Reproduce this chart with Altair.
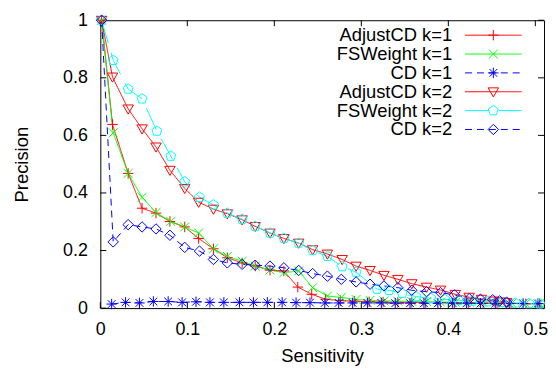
import altair as alt
import pandas as pd

series_names = ["AdjustCD k=1", "FSWeight k=1", "CD k=1", "AdjustCD k=2", "FSWeight k=2", "CD k=2"]
marker_keys = ["p1", "p2", "p3", "p4", "p5", "p6"]
colors = ["#ff0000", "#00ff00", "#0000ff", "#ff0000", "#00ffff", "#0000ff"]
dashes = [[1, 0], [1, 0], [7, 5], [1, 0], [24, 10], [7, 5]]
shapes = [
    "M-1,0H1M0,-1V1",
    "M-0.85,-0.85L0.85,0.85M-0.85,0.85L0.85,-0.85",
    "M-1,0H1M0,-1V1M-0.75,-0.75L0.75,0.75M-0.75,0.75L0.75,-0.75",
    "M-1,-0.75L1,-0.75L0,1Z",
    "M0,-1L0.951,-0.309L0.588,0.809L-0.588,0.809L-0.951,-0.309Z",
    "M0,-1L1,0L0,1L-1,0Z",
]

adj1_x = [0.0015, 0.014, 0.032, 0.048, 0.064, 0.080, 0.097, 0.113, 0.130, 0.146,
          0.163, 0.178, 0.195, 0.211, 0.227, 0.243, 0.259, 0.276, 0.292, 0.309,
          0.325, 0.342, 0.358, 0.374, 0.391, 0.407, 0.423, 0.440, 0.456, 0.472,
          0.489, 0.505]
adj1_y = [1.0, 0.638, 0.468, 0.347, 0.330, 0.301, 0.282, 0.242, 0.206, 0.175,
          0.157, 0.146, 0.132, 0.129, 0.073, 0.048, 0.031, 0.026, 0.024, 0.022,
          0.021, 0.020, 0.020, 0.019, 0.019, 0.018, 0.018, 0.017, 0.016, 0.016,
          0.015, 0.015]

fs1_x = [0.0015, 0.0148, 0.032, 0.048, 0.064, 0.081, 0.097, 0.113, 0.130, 0.146,
         0.163, 0.178, 0.195, 0.211, 0.228, 0.244, 0.261, 0.277, 0.294, 0.310,
         0.326, 0.342, 0.358, 0.375, 0.391, 0.408, 0.424, 0.440, 0.457, 0.473,
         0.489, 0.505]
fs1_y = [1.0, 0.609, 0.468, 0.385, 0.332, 0.301, 0.282, 0.261, 0.206, 0.180,
         0.163, 0.146, 0.132, 0.123, 0.129, 0.071, 0.042, 0.037, 0.030, 0.027,
         0.025, 0.024, 0.023, 0.022, 0.021, 0.020, 0.020, 0.019, 0.018, 0.017,
         0.016, 0.016]

cd1_x = [0.013, 0.029, 0.045, 0.061, 0.078, 0.094, 0.110, 0.126, 0.142, 0.160,
         0.176, 0.192, 0.209, 0.225, 0.241, 0.258, 0.274, 0.290, 0.307, 0.323,
         0.339, 0.356, 0.372, 0.388, 0.405, 0.421, 0.437, 0.454, 0.470, 0.486,
         0.503]
cd1_y = [0.014, 0.020, 0.018, 0.023, 0.023, 0.020, 0.022, 0.020, 0.020, 0.020,
         0.020, 0.020, 0.020, 0.019, 0.019, 0.018, 0.018, 0.018, 0.018, 0.018,
         0.017, 0.017, 0.017, 0.017, 0.017, 0.017, 0.016, 0.016, 0.016, 0.016,
         0.016]

adj2_x = [0.0015, 0.014, 0.032, 0.048, 0.064, 0.080, 0.097, 0.113, 0.130, 0.146,
          0.163, 0.178, 0.195, 0.211, 0.228, 0.244, 0.261, 0.278, 0.294, 0.310,
          0.326, 0.342, 0.358, 0.375, 0.391, 0.408, 0.424, 0.438, 0.452, 0.459,
          0.467]
adj2_y = [1.0, 0.803, 0.692, 0.623, 0.560, 0.479, 0.416, 0.368, 0.344, 0.328,
          0.307, 0.284, 0.261, 0.242, 0.226, 0.203, 0.188, 0.169, 0.146, 0.131,
          0.114, 0.100, 0.085, 0.073, 0.063, 0.048, 0.038, 0.031, 0.025, 0.022,
          0.020]

fs2_x = [0.0015, 0.0148, 0.032, 0.048, 0.065, 0.081, 0.097, 0.114, 0.130, 0.146,
         0.163, 0.178, 0.195, 0.211, 0.228, 0.244, 0.261, 0.278, 0.294, 0.318,
         0.332, 0.347, 0.363, 0.380, 0.396, 0.412, 0.428, 0.445, 0.461, 0.477,
         0.493, 0.505]
fs2_y = [1.0, 0.861, 0.761, 0.727, 0.615, 0.528, 0.439, 0.385, 0.359, 0.330,
         0.309, 0.284, 0.261, 0.242, 0.226, 0.200, 0.180, 0.144, 0.125, 0.066,
         0.062, 0.051, 0.040, 0.034, 0.030, 0.027, 0.025, 0.022, 0.020, 0.018,
         0.016, 0.015]

cd2_x = [0.0015, 0.0148, 0.032, 0.048, 0.064, 0.080, 0.097, 0.114, 0.130, 0.146,
         0.163, 0.178, 0.195, 0.211, 0.228, 0.244, 0.261, 0.277, 0.294, 0.310,
         0.326, 0.342, 0.358, 0.375, 0.391, 0.407, 0.424, 0.437, 0.451, 0.459,
         0.467]
cd2_y = [1.0, 0.230, 0.290, 0.282, 0.275, 0.253, 0.211, 0.198, 0.169, 0.157,
         0.152, 0.149, 0.146, 0.140, 0.131, 0.120, 0.111, 0.100, 0.091, 0.083,
         0.077, 0.071, 0.062, 0.057, 0.054, 0.046, 0.033, 0.031, 0.029, 0.025,
         0.021]

x_ticks = [0, 0.1, 0.2, 0.3, 0.4, 0.5]
y_ticks = [0, 0.2, 0.4, 0.6, 0.8, 1]

all_x = [adj1_x, fs1_x, cd1_x, adj2_x, fs2_x, cd2_x]
all_y = [adj1_y, fs1_y, cd1_y, adj2_y, fs2_y, cd2_y]

rows = []
for i, (xs, ys) in enumerate(zip(all_x, all_y)):
    for xv, yv in zip(xs, ys):
        rows.append({"series": series_names[i], "marker": marker_keys[i], "x": xv, "y": yv})
df = pd.DataFrame(rows)

W, H = 447, 290
FONT = "Liberation Sans"

x_axis = alt.Axis(values=x_ticks, format="~g", title="Sensitivity", grid=False, ticks=False,
                  tickSize=0, domain=False, labelPadding=13, titlePadding=8, labelFlush=False,
                  labelFontSize=18, titleFontSize=18.5, titleFontWeight="normal",
                  labelColor="black", titleColor="black", labelFont=FONT, titleFont=FONT)
y_axis = alt.Axis(values=y_ticks, format="~g", title="Precision", grid=False, ticks=False,
                  tickSize=0, domain=False, labelPadding=13, titlePadding=31, labelFlush=False,
                  labelFontSize=18, titleFontSize=18.5, titleFontWeight="normal",
                  labelColor="black", titleColor="black", labelFont=FONT, titleFont=FONT)

x_enc = alt.X("x:Q", scale=alt.Scale(domain=[0, 0.51], nice=False, zero=False), axis=x_axis)
y_enc = alt.Y("y:Q", scale=alt.Scale(domain=[0, 1], nice=False), axis=y_axis)

LX, LY = 386.7, 5.8
ROW_PAD = {"expr": "0"}
legend_a = alt.Legend(orient="none", legendX=LX, legendY=LY, title=None, padding=0,
                      labelFont=FONT, labelFontSize=18.5, labelColor="black", labelAlign="right",
                      labelOffset={"expr": "-50.7"}, symbolType="M-3.56,0H3.56", symbolSize=256,
                      symbolStrokeWidth=1, rowPadding=ROW_PAD, labelLimit=300)
legend_b = alt.Legend(orient="none", legendX=LX, legendY=LY, title=None, padding=0,
                      labelFont=FONT, labelFontSize=18.5, labelExpr="' '", labelOffset=4,
                      symbolSize=110, symbolStrokeWidth=1, rowPadding=ROW_PAD,
                      symbolFillColor="transparent")

base = alt.Chart(df)
lines = base.mark_line(strokeWidth=1).encode(
    x=x_enc, y=y_enc,
    color=alt.Color("series:N", scale=alt.Scale(domain=series_names, range=colors), legend=legend_a),
    strokeDash=alt.StrokeDash("series:N", scale=alt.Scale(domain=series_names, range=dashes), legend=legend_a),
)
points = base.mark_point(filled=False, size=110, strokeWidth=1, opacity=1).encode(
    x=x_enc, y=y_enc,
    shape=alt.Shape("marker:N", scale=alt.Scale(domain=marker_keys, range=shapes), legend=legend_b),
    stroke=alt.Stroke("marker:N", scale=alt.Scale(domain=marker_keys, range=colors), legend=legend_b),
)

xt = pd.DataFrame({"x": x_ticks})
yt = pd.DataFrame({"y": y_ticks})
tick_bottom = alt.Chart(xt).mark_rule(color="black", strokeWidth=1).encode(
    x=x_enc, y=alt.value(H), y2=alt.value(H - 6))
tick_top = alt.Chart(xt).mark_rule(color="black", strokeWidth=1).encode(
    x=x_enc, y=alt.value(0), y2=alt.value(6))
tick_left = alt.Chart(yt).mark_rule(color="black", strokeWidth=1).encode(
    y=y_enc, x=alt.value(0), x2=alt.value(6))
tick_right = alt.Chart(yt).mark_rule(color="black", strokeWidth=1).encode(
    y=y_enc, x=alt.value(W), x2=alt.value(W - 6))

chart = alt.layer(tick_bottom, tick_top, tick_left, tick_right, lines, points).properties(
    width=W, height=H,
    autosize=alt.AutoSizeParams(type="none"),
    padding={"left": 93, "top": 11, "right": 4, "bottom": 58},
).configure(font=FONT).configure_view(stroke="black", strokeWidth=1)

chart.save("out.html", embed_options={"renderer": "svg", "actions": False})
